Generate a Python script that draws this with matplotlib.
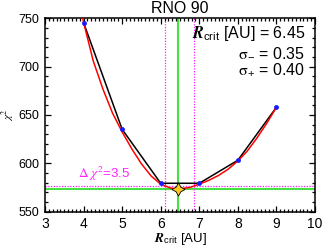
import matplotlib
matplotlib.use('Agg')
import matplotlib.pyplot as plt
from matplotlib.ticker import MultipleLocator

plt.rcParams['font.family'] = ['Liberation Sans', 'DejaVu Sans']
plt.rcParams['mathtext.fontset'] = 'stix'

# chi^2 as a function of R_crit
r_crit = [4, 5, 6, 7, 8, 9]
chi2 = [745.5, 635.2, 579.4, 579.4, 603.2, 658.0]

# smooth red curve
fit_x = [3.97, 4.0, 4.25, 4.5, 4.75, 5.0, 5.25, 5.5, 5.75, 6.0, 6.25, 6.45,
         6.75, 7.0, 7.25, 7.5, 7.75, 8.0, 8.25, 8.5, 8.75, 9.0]
fit_y = [751.5, 746, 706, 677, 652, 632.5, 615, 599.5, 587, 578.5, 574.5, 573.5,
         575, 578.5, 582.5, 587.5, 594, 602.5, 613, 626.5, 641.5, 658]

r_best = 6.45
sig_minus = 0.35
sig_plus = 0.40
chi2_min = 573.5
delta_chi2 = 3.5

fig = plt.figure(figsize=(3.24, 2.46), dpi=100)
ax = fig.add_axes([45/324, 1-211.7/246, 270/324, 193.4/246])

green = '#44e044'
mag = '#ff22ff'

ax.axvline(r_best, color=green, lw=1.5, zorder=1)
ax.axhline(chi2_min, color=green, lw=1.5, zorder=1)
ax.axvline(r_best - sig_minus, color=mag, lw=0.9, ls=(0, (1, 1.2)), zorder=1)
ax.axvline(r_best + sig_plus, color=mag, lw=0.9, ls=(0, (1, 1.2)), zorder=1)
ax.axhline(chi2_min + delta_chi2, color=mag, lw=0.9, ls=(0, (1, 1.2)), zorder=1)

ax.plot(r_crit, chi2, color='black', lw=1.1, zorder=2)
ax.plot(fit_x, fit_y, color='red', lw=1.1, zorder=3)
ax.plot(r_crit, chi2, 'o', color='#1a1aff', ms=3.5, mec='none', zorder=4)
ax.plot([r_best], [chi2_min], marker=(4, 1, 0), ms=9.5, color='#ffcc22',
        mec='black', mew=0.6, zorder=5)

ax.text(3.86, 579.5, r'$\Delta\ \chi^2$=3.5', color=mag, fontsize=9.5,
        ha='left', va='bottom')

ax.text(0.963, 0.90, r'$\mathbfit{R}_{\mathregular{crit}}$ [AU] = %.2f' % r_best,
        transform=ax.transAxes, ha='right', va='baseline', fontsize=11.5)
ax.text(0.963, 0.801, r'$\mathrm{\sigma}_{\mathregular{-}}$ = %.2f' % sig_minus,
        transform=ax.transAxes, ha='right', va='baseline', fontsize=11.5)
ax.text(0.963, 0.707, r'$\mathrm{\sigma}_{\mathregular{+}}$ = %.2f' % sig_plus,
        transform=ax.transAxes, ha='right', va='baseline', fontsize=11.5)

ax.set_xlim(3, 10)
ax.set_ylim(550, 750)
ax.xaxis.set_major_locator(MultipleLocator(1))
ax.xaxis.set_minor_locator(MultipleLocator(0.1))
ax.yaxis.set_major_locator(MultipleLocator(50))
ax.yaxis.set_minor_locator(MultipleLocator(10))
ax.tick_params(which='both', direction='in', top=True, right=True, width=0.9)
ax.tick_params(which='major', length=4)
ax.tick_params(which='minor', length=2)
ax.tick_params(axis='x', labelsize=10, pad=3.5)
ax.tick_params(axis='y', labelsize=9, pad=4)
for s in ax.spines.values():
    s.set_linewidth(1.1)

ax.set_title('RNO 90', fontsize=11.5, pad=4)
ax.set_xlabel(r'$\mathbfit{R}_{\mathregular{crit}}$ [AU]', fontsize=9.5, labelpad=0)
ax.set_ylabel(r'$\chi^2$', fontsize=8, va='center')
ax.yaxis.set_label_coords(-0.135, 0.5)

fig.savefig('out.png', dpi=100)
